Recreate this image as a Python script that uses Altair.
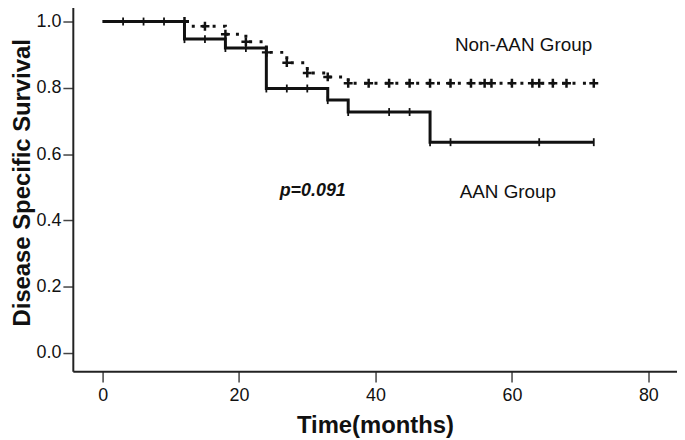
import altair as alt
import pandas as pd

# ---- data ----
aan_time = [0, 12, 18, 24, 33, 36, 48, 72]
aan_surv = [1.0, 0.947, 0.920, 0.798, 0.763, 0.727, 0.636, 0.636]
aan_censor = [3, 6, 9, 12, 15, 18, 21, 24, 27, 30, 33, 36, 42, 45, 48, 51, 64, 72]

non_time = [0, 13, 18, 21, 24, 27, 30, 33, 36, 72]
non_surv = [1.0, 0.986, 0.962, 0.939, 0.907, 0.876, 0.845, 0.833, 0.814, 0.814]
non_censor = [12, 15, 18, 21, 24, 27, 30, 33, 36, 39, 42, 45, 48, 51, 54, 56, 57,
              60, 63, 64, 66, 68, 72]

label_text = ["Non-AAN Group", "AAN Group"]
label_x = [61.7, 59.4]
label_y = [0.928, 0.486]
p_text = ["p=0.091"]
p_x = [30.8]
p_y = [0.489]

x_ticks = [0, 20, 40, 60, 80]
y_ticks = [0.0, 0.2, 0.4, 0.6, 0.8, 1.0]


def step_at(times, survs, t):
    v = survs[0]
    for tt, ss in zip(times, survs):
        if tt <= t:
            v = ss
    return v


aan_df = pd.DataFrame({"t": aan_time, "s": aan_surv})
non_df = pd.DataFrame({"t": non_time, "s": non_surv})
aan_c = pd.DataFrame({"t": aan_censor,
                      "s": [step_at(aan_time, aan_surv, t) for t in aan_censor]})
non_c = pd.DataFrame({"t": non_censor,
                      "s": [step_at(non_time, non_surv, t) for t in non_censor]})
lab_df = pd.DataFrame({"label": label_text, "t": label_x, "s": label_y})
p_df = pd.DataFrame({"label": p_text, "t": p_x, "s": p_y})

FONT = "Liberation Sans"
INK = "#111111"

xs = alt.Scale(domain=[-4.37, 84.2], nice=False, zero=False)
ys = alt.Scale(domain=[-0.055, 1.06], nice=False, zero=False)

X = alt.X("t:Q", scale=xs,
          axis=alt.Axis(values=x_ticks, title="Time(months)", grid=False,
                        tickSize=11, labelPadding=5,
                        titleBaseline="alphabetic", titleY=61.7))
Y = alt.Y("s:Q", scale=ys,
          axis=alt.Axis(values=y_ticks, format=".1f",
                        title="Disease Specific Survival", grid=False,
                        tickSize=10, labelPadding=2,
                        titleAngle=270, titleBaseline="middle", titleAlign="center",
                        titleX=-50.3, titleY=182))

non_line = alt.Chart(non_df).mark_line(
    interpolate="step-after", color=INK, strokeWidth=3, strokeDash=[3, 7.5]
).encode(x=X, y=Y)

aan_line = alt.Chart(aan_df).mark_line(
    interpolate="step-after", color=INK, strokeWidth=3
).encode(x=X, y=Y)

non_marks = alt.Chart(non_c).mark_point(
    shape="M-1,0H1M0,-1V1", size=81, filled=False, color=INK,
    strokeWidth=2.5, opacity=1
).encode(x=X, y=Y)

aan_marks = alt.Chart(aan_c).mark_point(
    shape="M0,-1V1", size=64, filled=False, color=INK,
    strokeWidth=1.8, opacity=1
).encode(x=X, y=Y)

labels = alt.Chart(lab_df).mark_text(
    font=FONT, fontSize=19, color=INK, align="center", baseline="middle"
).encode(x=X, y=Y, text="label:N")

ptext = alt.Chart(p_df).mark_text(
    font=FONT, fontSize=18, fontWeight="bold", fontStyle="italic", color=INK,
    align="center", baseline="middle"
).encode(x=X, y=Y, text="label:N")

chart = alt.layer(non_line, aan_line, non_marks, aan_marks, labels, ptext).properties(
    width=608.7, height=372.3,
    padding={"left": 65.3, "top": -8, "right": 0, "bottom": 68},
    autosize=alt.AutoSizeParams(type="none"),
).configure_view(stroke=None).configure_axis(
    domainColor="#222222", domainWidth=2,
    tickColor="#444444", tickWidth=1.5,
    labelFont=FONT, labelFontSize=18, labelColor=INK,
    titleFont=FONT, titleFontSize=24, titleFontWeight="bold", titleColor=INK,
)

chart.save("out.html", embed_options={"renderer": "svg", "actions": False})
